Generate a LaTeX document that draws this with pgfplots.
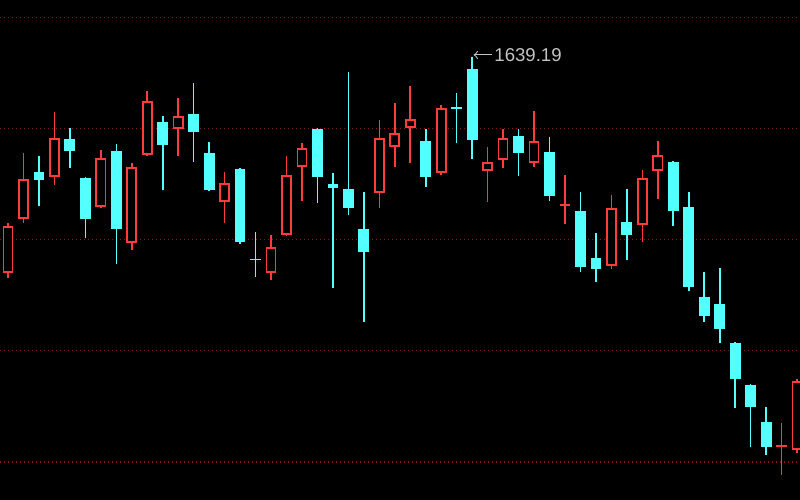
\documentclass[border=0pt]{standalone}
\usepackage{pgfplots}
\pgfplotsset{compat=1.18}
\usepackage{pgfplotstable}
\usepackage{fontspec}
\setmainfont{Liberation Sans}
\definecolor{upC}{RGB}{255,60,60}
\definecolor{downC}{RGB}{84,255,255}
\definecolor{gridC}{RGB}{140,22,22}
\definecolor{lblC}{RGB}{195,195,195}

% red (rising) candles: index, open, high, low, close
\pgfplotstableread{
i O H L C
0 1445.0 1489.9 1440.5 1487.2
1 1493.5 1552.9 1489.9 1529.5
3 1531.3 1589.7 1524.1 1566.3
6 1504.3 1555.5 1503.4 1548.4
8 1471.9 1543.9 1465.6 1540.3
9 1551.1 1608.6 1550.2 1599.6
11 1574.4 1602.3 1550.2 1586.1
14 1508.8 1535.8 1489.9 1525.9
17 1445.0 1479.1 1438.7 1468.3
18 1479.1 1550.2 1478.5 1533.1
19 1540.3 1561.8 1509.7 1557.3
24 1516.9 1582.5 1503.4 1566.3
25 1558.2 1597.8 1540.3 1570.8
26 1575.3 1613.1 1543.9 1583.4
28 1534.9 1596.0 1533.1 1593.3
31 1536.7 1558.2 1508.8 1544.8
32 1546.6 1574.4 1539.4 1566.3
34 1543.9 1590.6 1540.3 1563.6
36 1505.7 1533.1 1489.0 1507.1
39 1451.3 1515.1 1448.6 1503.4
41 1488.1 1537.6 1472.8 1530.4
42 1536.7 1563.6 1511.5 1551.1
50 1288.9 1310.1 1263.4 1290.3
51 1285.8 1349.7 1283.2 1347.9
}\up

% cyan (falling) candles: index, open, high, low, close
\pgfplotstableread{
i O H L C
2 1535.8 1550.2 1505.2 1528.6
4 1565.4 1575.3 1539.4 1554.7
5 1530.4 1531.3 1476.4 1493.5
7 1554.7 1560.9 1453.1 1484.5
10 1580.7 1586.1 1519.6 1560.0
12 1587.9 1615.8 1544.8 1571.7
13 1552.9 1562.7 1519.0 1519.6
15 1538.5 1539.4 1471.0 1472.8
16 1458.0 1481.8 1441.4 1456.6
20 1574.4 1575.3 1507.9 1531.3
21 1525.0 1534.9 1431.5 1521.4
22 1520.5 1625.7 1497.1 1503.4
23 1484.5 1517.8 1400.9 1463.9
27 1563.6 1574.4 1522.3 1531.3
29 1593.8 1606.8 1561.8 1592.4
30 1628.4 1639.19 1547.5 1564.5
33 1568.1 1574.4 1532.2 1552.9
35 1553.8 1567.2 1509.7 1514.2
37 1500.7 1517.8 1445.9 1450.4
38 1458.5 1480.9 1436.9 1448.6
40 1490.8 1520.5 1456.7 1479.1
43 1544.8 1545.7 1487.2 1500.7
44 1504.3 1517.8 1428.8 1432.4
45 1423.4 1445.9 1400.9 1406.3
46 1417.1 1449.5 1382.0 1394.6
47 1382.0 1382.8 1323.6 1349.7
48 1344.3 1345.0 1288.5 1324.5
49 1311.0 1324.5 1281.4 1288.5
}\down

\begin{document}
\begin{tikzpicture}
\begin{axis}[
  scale only axis, width=400pt, height=250pt,
  xmin=-0.517, xmax=51.19, ymin=1240.9, ymax=1690.4,
  axis background/.style={fill=black},
  axis line style={draw=none},
  xtick=\empty,
  ytick={1275,1375,1475,1575,1675},
  yticklabels={},
  major tick length=0pt,
  ymajorgrids,
  grid style={color=gridC, line width=0.6pt, dash pattern=on 0.6pt off 1.4pt},
]
% wicks
\addplot[draw=none, mark=none, forget plot,
  error bars/.cd, y dir=both, y explicit, error mark=none,
  error bar style={draw=upC, line width=0.8pt, solid}]
  table[x=i, y expr={(\thisrow{H}+\thisrow{L})/2}, y error expr={(\thisrow{H}-\thisrow{L})/2}] {\up};
\addplot[draw=none, mark=none, forget plot,
  error bars/.cd, y dir=both, y explicit, error mark=none,
  error bar style={draw=downC, line width=0.8pt, solid}]
  table[x=i, y expr={(\thisrow{H}+\thisrow{L})/2}, y error expr={(\thisrow{H}-\thisrow{L})/2}] {\down};
% bodies
\addplot[draw=none, mark=none, forget plot,
  error bars/.cd, y dir=both, y explicit, error mark=none,
  error bar style={draw=downC, line width=5.4pt, solid}]
  table[x=i, y expr={(\thisrow{O}+\thisrow{C})/2}, y error expr={max(abs(\thisrow{O}-\thisrow{C})/2,0.7)}] {\down};
\addplot[draw=none, mark=none, forget plot,
  error bars/.cd, y dir=both, y explicit, error mark=none,
  error bar style={draw=upC, line width=5.4pt, solid}]
  table[x=i, y expr={(\thisrow{O}+\thisrow{C})/2}, y error expr={max(abs(\thisrow{O}-\thisrow{C})/2,0.75)}] {\up};
\addplot[draw=none, mark=none, forget plot,
  error bars/.cd, y dir=both, y explicit, error mark=none,
  error bar style={draw=black, line width=3.7pt, solid}]
  table[x=i, y expr={(\thisrow{O}+\thisrow{C})/2}, y error expr={max(abs(\thisrow{O}-\thisrow{C})/2-1.5,0)}] {\up};
% high annotation
\draw[lblC, line width=0.55pt, <-] (axis cs:30.1,1641.0) -- (axis cs:31.3,1641.0);
\node[anchor=west, text=lblC, inner sep=0.5pt, font=\fontsize{9.3}{11}\selectfont] at (axis cs:31.35,1641.0) {1639.19};
\end{axis}
\pgfresetboundingbox
\useasboundingbox (current axis.south west) rectangle (current axis.north east);
\end{tikzpicture}
\end{document}
